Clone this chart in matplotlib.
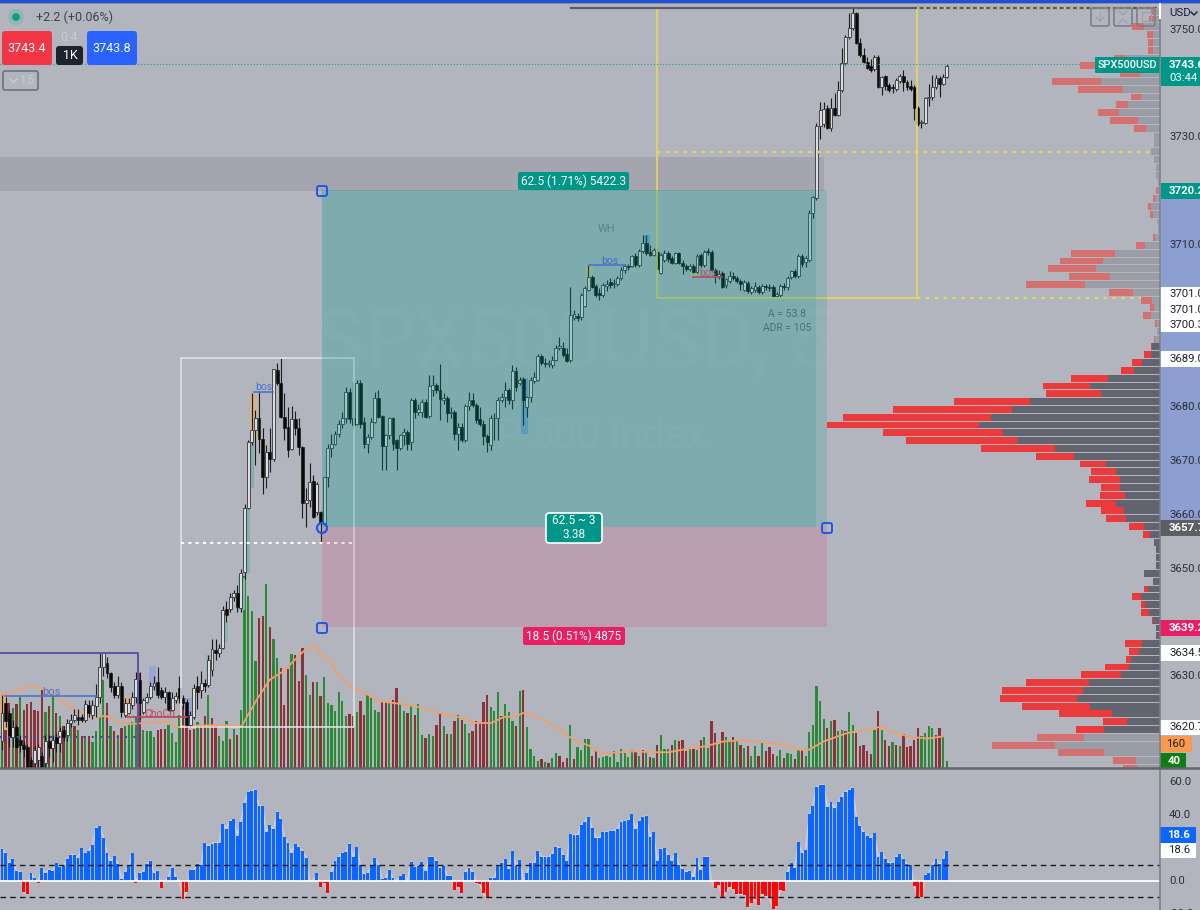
import numpy as np
import matplotlib
matplotlib.use('Agg')
import matplotlib.pyplot as plt
from matplotlib.patches import Rectangle, FancyBboxPatch, Circle

plt.rcParams['font.family'] = ['Roboto', 'DejaVu Sans']

BG = '#b2b5be'

# 5 min candles, prices
opens = [
    3617.9, 3625.0, 3623.1, 3618.8, 3620.6, 3618.2, 3617.2, 3616.9, 3614.5, 3613.8,
    3614.5, 3615.1, 3613.8, 3617.9, 3616.6, 3618.8, 3617.6, 3620.0, 3619.1, 3621.3,
    3621.9, 3622.5, 3622.4, 3621.8, 3624.7, 3622.8, 3624.4, 3626.2, 3631.8, 3632.4,
    3630.6, 3628.2, 3626.5, 3628.2, 3622.8, 3623.2, 3624.7, 3626.2, 3629.3, 3623.4, 3625.3,
    3626.1, 3628.2, 3629.0, 3627.5, 3626.2, 3627.1, 3623.7, 3625.6, 3627.8, 3625.9,
    3625.3, 3621.0, 3622.5, 3628.1, 3627.5, 3628.7, 3628.4, 3631.2, 3634.9, 3634.3,
    3635.2, 3642.4, 3642.4, 3644.8, 3645.4, 3642.6, 3649.4, 3661.3, 3673.5,
    3675.7, 3677.9, 3674.1, 3667.0, 3671.7, 3670.4, 3686.8, 3684.4, 3678.2, 3676.2,
    3672.1, 3677.7, 3676.0, 3672.6, 3662.1, 3662.7, 3666.2, 3660.5, 3660.5, 3658.5,
    3666.9, 3672.3, 3673.2, 3675.0, 3676.8, 3677.9, 3682.8, 3677.9, 3676.9, 3684.4,
    3677.2, 3673.2, 3674.5, 3677.2, 3681.6, 3678.3, 3672.7, 3674.8, 3677.9, 3673.8,
    3672.3, 3674.8, 3675.4, 3673.5, 3681.3, 3679.1, 3679.1, 3681.0, 3678.3, 3683.1,
    3684.0, 3683.1, 3681.3, 3681.6, 3678.8, 3679.1, 3675.0, 3676.3, 3673.8, 3680.2,
    3681.3, 3680.3, 3677.7, 3676.9, 3674.6, 3672.9, 3677.9, 3678.0, 3681.3, 3681.8,
    3683.1, 3681.3, 3686.7, 3684.4, 3685.1, 3680.0, 3681.8, 3684.9, 3685.0, 3689.4,
    3688.2, 3688.0, 3687.8, 3688.8, 3690.9, 3690.9, 3689.8, 3688.7, 3696.6, 3696.9,
    3696.7, 3698.7, 3701.8, 3704.2, 3702.4, 3701.1, 3700.8, 3702.4, 3703.2, 3702.8,
    3702.9, 3703.9, 3705.5, 3706.2, 3706.2, 3708.0, 3706.3, 3709.0, 3710.5, 3708.8,
    3708.2, 3708.8, 3704.9, 3707.3, 3708.6, 3707.6, 3706.8, 3708.5, 3706.8, 3706.2,
    3705.7, 3706.2, 3705.1, 3708.2, 3706.3, 3708.9, 3708.8, 3705.5, 3704.3, 3704.8,
    3702.6, 3703.4, 3704.3, 3703.9, 3703.4, 3701.8, 3703.0, 3701.4, 3701.7, 3702.2,
    3701.4, 3702.4, 3702.3, 3702.2, 3700.6, 3700.8, 3702.4, 3702.2, 3704.2, 3705.2,
    3704.3, 3708.0, 3707.0, 3707.3, 3716.0, 3718.8, 3732.1, 3732.6, 3735.5, 3731.8,
    3735.6, 3734.2, 3738.9, 3743.8, 3748.7, 3750.3, 3753.1, 3747.6, 3745.4, 3744.0,
    3743.3, 3742.7, 3744.9, 3739.5, 3741.4, 3739.8, 3739.5, 3739.0, 3740.6, 3741.4,
    3740.4, 3739.6, 3739.4, 3735.5, 3732.8, 3732.8, 3737.3, 3737.5, 3739.4, 3741.0,
    3740.0, 3741.2,
]
closes = [
    3623.1, 3621.6, 3618.8, 3620.6, 3616.9, 3617.2, 3616.4, 3612.9, 3612.9, 3616.3,
    3616.9, 3613.2, 3617.9, 3616.6, 3618.2, 3617.6, 3619.9, 3618.8, 3621.3, 3621.9,
    3622.8, 3621.8, 3621.8, 3624.9, 3623.1, 3624.7, 3626.2, 3631.8, 3634.3, 3630.6,
    3628.0, 3626.5, 3628.1, 3623.4, 3625.0, 3625.0, 3626.2, 3629.4, 3625.0, 3625.6, 3626.1,
    3628.2, 3628.8, 3626.5, 3626.2, 3627.1, 3623.7, 3625.9, 3626.3, 3625.9, 3625.0,
    3621.0, 3622.8, 3627.8, 3627.1, 3628.7, 3628.2, 3633.0, 3635.0, 3634.3, 3635.2,
    3642.3, 3641.4, 3644.8, 3645.4, 3642.9, 3649.1, 3661.3, 3673.5, 3675.7,
    3677.9, 3674.1, 3667.0, 3671.7, 3670.4, 3687.0, 3684.4, 3678.2, 3676.0, 3672.0,
    3677.7, 3676.0, 3672.6, 3662.2, 3662.7, 3666.1, 3659.6, 3665.7, 3658.5, 3666.9,
    3672.3, 3673.2, 3675.0, 3676.9, 3677.9, 3682.8, 3677.7, 3676.6, 3684.4, 3676.9,
    3673.2, 3674.5, 3677.2, 3681.6, 3678.2, 3672.7, 3674.8, 3677.9, 3673.2, 3672.3,
    3674.8, 3675.4, 3673.2, 3681.3, 3679.1, 3679.7, 3681.0, 3678.2, 3683.9, 3684.0,
    3683.1, 3681.4, 3681.6, 3678.8, 3679.1, 3675.0, 3676.2, 3673.8, 3680.2, 3681.3,
    3680.3, 3677.5, 3676.9, 3674.6, 3673.5, 3678.0, 3678.0, 3681.3, 3681.9, 3683.1,
    3681.3, 3686.7, 3683.7, 3685.0, 3681.3, 3681.8, 3685.0, 3685.6, 3689.4, 3688.1,
    3688.0, 3688.2, 3688.8, 3691.0, 3691.3, 3689.6, 3688.6, 3697.0, 3697.2, 3696.6,
    3700.8, 3702.0, 3704.2, 3702.2, 3700.8, 3700.8, 3702.6, 3702.9, 3702.6, 3703.0,
    3703.9, 3705.5, 3706.1, 3706.0, 3708.0, 3706.3, 3709.0, 3710.4, 3708.5, 3708.2,
    3709.2, 3705.7, 3708.2, 3708.5, 3707.4, 3706.8, 3708.5, 3706.8, 3706.2, 3705.7,
    3706.2, 3705.1, 3708.0, 3706.3, 3708.8, 3708.7, 3705.4, 3704.5, 3704.7, 3702.2,
    3703.7, 3704.3, 3703.9, 3703.4, 3702.9, 3703.2, 3701.5, 3702.0, 3702.4, 3701.4,
    3702.4, 3702.2, 3702.0, 3700.6, 3700.9, 3702.5, 3702.2, 3704.0, 3705.2, 3704.3,
    3708.1, 3706.6, 3707.6, 3716.0, 3718.9, 3732.2, 3735.2, 3735.3, 3731.8, 3735.5,
    3734.2, 3738.9, 3743.8, 3748.7, 3750.3, 3753.2, 3747.6, 3745.4, 3744.0, 3743.0,
    3742.5, 3744.9, 3739.5, 3741.2, 3739.6, 3738.9, 3739.2, 3740.7, 3741.4, 3740.4,
    3739.4, 3739.0, 3735.5, 3732.6, 3732.9, 3737.3, 3737.5, 3739.4, 3741.0, 3740.0,
    3741.2, 3743.4,
]
highs = [
    3626.5, 3626.2, 3623.7, 3621.9, 3621.0, 3619.1, 3618.0, 3617.5, 3615.0, 3617.0,
    3617.5, 3616.0, 3619.0, 3619.0, 3619.0, 3619.5, 3620.5, 3620.7, 3622.0, 3623.0,
    3624.0, 3624.0, 3623.0, 3625.6, 3625.5, 3625.5, 3628.5, 3634.3, 3634.5, 3633.6,
    3630.8, 3629.0, 3630.0, 3629.0, 3626.0, 3626.0, 3627.0, 3630.8, 3630.8, 3626.0, 3626.8,
    3629.0, 3630.0, 3631.8, 3628.0, 3628.0, 3627.3, 3627.0, 3627.0, 3630.0, 3626.5,
    3625.8, 3623.5, 3628.5, 3630.0, 3631.0, 3629.5, 3634.0, 3636.9, 3636.9, 3636.0,
    3643.0, 3644.0, 3645.5, 3646.0, 3647.0, 3650.0, 3662.0, 3673.8, 3682.6,
    3679.4, 3682.8, 3676.0, 3672.9, 3676.0, 3687.1, 3688.2, 3689.0, 3682.5, 3680.0,
    3680.1, 3679.3, 3677.9, 3672.8, 3664.9, 3669.6, 3667.3, 3666.0, 3660.7, 3667.0,
    3673.2, 3675.0, 3675.5, 3677.5, 3679.0, 3683.7, 3683.5, 3684.7, 3685.0, 3685.0,
    3678.2, 3675.0, 3678.0, 3682.8, 3683.1, 3678.5, 3675.0, 3678.2, 3678.2, 3674.0,
    3675.0, 3676.0, 3675.8, 3681.6, 3681.6, 3680.5, 3681.5, 3681.5, 3685.9, 3686.0,
    3684.5, 3688.0, 3682.5, 3682.0, 3680.0, 3679.5, 3677.0, 3677.0, 3680.6, 3682.8,
    3682.5, 3680.8, 3680.0, 3677.5, 3675.0, 3678.5, 3678.8, 3681.8, 3682.5, 3684.7,
    3683.5, 3687.8, 3687.5, 3685.5, 3685.5, 3682.0, 3685.5, 3686.5, 3689.8, 3689.8,
    3689.0, 3688.8, 3689.5, 3691.5, 3693.0, 3692.0, 3691.0, 3702.2, 3698.0, 3697.5,
    3701.2, 3702.5, 3706.3, 3704.5, 3702.8, 3702.0, 3703.0, 3703.6, 3704.0, 3703.7,
    3704.3, 3706.0, 3706.5, 3706.5, 3708.3, 3708.5, 3709.3, 3711.9, 3711.9, 3710.0,
    3709.6, 3709.7, 3708.6, 3709.2, 3709.0, 3708.0, 3708.8, 3708.8, 3707.2, 3706.6,
    3706.6, 3706.6, 3708.4, 3708.6, 3709.2, 3709.6, 3709.2, 3705.8, 3705.4, 3705.2,
    3704.0, 3705.3, 3705.0, 3704.4, 3703.8, 3703.6, 3703.3, 3702.5, 3703.2, 3702.6,
    3702.8, 3702.9, 3702.8, 3702.6, 3701.3, 3702.9, 3703.0, 3704.4, 3705.5, 3705.6,
    3708.4, 3708.4, 3708.0, 3716.5, 3719.2, 3732.8, 3736.7, 3736.7, 3736.0, 3737.3,
    3738.3, 3740.6, 3746.6, 3749.0, 3753.2, 3754.2, 3753.4, 3748.5, 3746.6, 3745.0,
    3744.6, 3745.4, 3745.4, 3741.5, 3741.7, 3740.2, 3740.0, 3741.0, 3741.9, 3742.5,
    3740.7, 3740.7, 3739.8, 3735.8, 3733.2, 3737.6, 3740.0, 3741.7, 3741.7, 3741.4,
    3741.9, 3743.6,
]
lows = [
    3616.3, 3620.6, 3616.9, 3616.9, 3616.6, 3616.0, 3615.0, 3612.7, 3612.7, 3613.0,
    3613.0, 3612.8, 3613.0, 3615.0, 3614.0, 3616.0, 3616.0, 3618.0, 3618.0, 3620.5,
    3621.5, 3621.0, 3621.5, 3621.5, 3622.5, 3622.0, 3622.5, 3625.0, 3630.0, 3629.6,
    3627.0, 3626.0, 3626.0, 3622.5, 3622.5, 3623.0, 3624.0, 3625.0, 3622.0, 3623.0, 3625.0,
    3625.8, 3627.5, 3626.0, 3625.8, 3625.0, 3623.5, 3623.5, 3625.0, 3625.0, 3624.0,
    3620.5, 3620.6, 3622.0, 3624.0, 3626.0, 3627.0, 3628.0, 3630.0, 3633.0, 3633.5,
    3635.0, 3640.0, 3642.0, 3644.0, 3642.0, 3642.0, 3648.0, 3661.0, 3673.0,
    3669.2, 3671.4, 3663.9, 3664.9, 3668.0, 3670.0, 3684.0, 3678.0, 3673.8, 3670.7,
    3672.0, 3674.8, 3671.0, 3659.3, 3657.7, 3661.4, 3659.4, 3660.0, 3655.0, 3658.0,
    3665.2, 3670.7, 3673.0, 3674.5, 3676.0, 3677.0, 3677.0, 3676.0, 3676.6, 3676.0,
    3672.3, 3671.4, 3674.0, 3677.0, 3678.0, 3668.3, 3668.3, 3674.0, 3672.0, 3668.3,
    3672.0, 3673.0, 3672.0, 3672.0, 3678.0, 3678.5, 3678.2, 3678.0, 3678.0, 3682.0,
    3682.5, 3677.6, 3680.5, 3677.2, 3678.0, 3673.8, 3672.0, 3673.5, 3673.5, 3679.5,
    3680.0, 3677.0, 3676.5, 3672.9, 3671.7, 3672.0, 3673.8, 3673.8, 3681.0, 3680.0,
    3680.5, 3679.7, 3683.0, 3684.0, 3676.6, 3678.2, 3681.0, 3684.5, 3684.8, 3687.8,
    3687.5, 3687.5, 3687.3, 3688.5, 3690.5, 3689.3, 3688.4, 3688.4, 3696.1, 3696.0,
    3696.1, 3698.5, 3701.5, 3702.0, 3700.4, 3699.8, 3700.5, 3701.5, 3702.0, 3702.0,
    3702.5, 3703.6, 3704.8, 3705.5, 3706.0, 3706.0, 3706.0, 3708.6, 3708.3, 3708.0,
    3708.0, 3705.5, 3704.6, 3707.0, 3707.0, 3706.5, 3706.5, 3706.5, 3704.7, 3705.2,
    3705.2, 3704.8, 3704.8, 3706.0, 3706.0, 3708.3, 3705.0, 3703.0, 3703.8, 3702.0,
    3702.0, 3703.0, 3703.5, 3703.0, 3701.8, 3701.5, 3701.2, 3701.0, 3701.4, 3701.0,
    3701.0, 3701.8, 3701.5, 3700.3, 3700.2, 3700.4, 3701.8, 3701.8, 3703.8, 3704.0,
    3704.0, 3706.0, 3706.0, 3707.0, 3715.0, 3718.5, 3729.7, 3732.0, 3731.6, 3731.3,
    3734.0, 3734.0, 3738.5, 3743.5, 3748.4, 3750.0, 3747.4, 3745.0, 3743.8, 3742.8,
    3742.2, 3742.4, 3739.3, 3738.0, 3738.9, 3738.4, 3738.3, 3738.6, 3740.2, 3738.6,
    3738.8, 3738.7, 3733.3, 3732.1, 3731.8, 3732.5, 3735.9, 3737.0, 3739.0, 3737.6,
    3739.7, 3741.0,
]

volume = [
    391, 410, 371, 343, 368, 406, 333, 368, 375, 333,
    324, 448, 320, 352, 410, 314, 295, 238, 229, 257,
    238, 219, 181, 181, 181, 147, 210, 295, 505, 371,
    238, 210, 190, 229, 238, 257, 261, 295, 543, 215,
    210, 210, 177, 219, 225, 225, 248, 200, 150, 305,
    352, 295, 219, 223, 263, 244, 295, 419, 286, 238,
    185, 152, 270, 166, 223, 190, 330, 1095, 981, 895,
    610, 857, 871, 1053, 806, 737, 629, 572, 362, 568,
    652, 648, 495, 686, 533, 419, 491, 490, 413, 520,
    371, 362, 328, 434, 381, 295, 309, 295, 318, 381,
    305, 415, 400, 330, 320, 375, 371, 375, 391, 457,
    371, 324, 314, 352, 301, 366, 190, 171, 196, 181,
    244, 311, 238, 196, 196, 267, 301, 276, 253, 202,
    213, 267, 261, 377, 419, 347, 328, 432, 295, 366,
    318, 270, 238, 438, 448, 234, 109, 67, 38, 51,
    34, 29, 57, 86, 70, 36, 57, 244, 51, 118,
    105, 166, 166, 70, 105, 55, 61, 67, 61, 99,
    36, 109, 86, 61, 105, 99, 70, 105, 99, 63,
    57, 130, 187, 109, 109, 133, 162, 152, 158, 99,
    114, 110, 105, 162, 177, 114, 270, 200, 139, 208,
    175, 162, 177, 158, 133, 114, 124, 67, 124, 67,
    143, 99, 118, 80, 70, 105, 57, 86, 82, 51,
    105, 105, 70, 208, 248, 470, 385, 280, 229, 267,
    276, 213, 219, 210, 320, 248, 200, 124, 133, 99,
    82, 219, 328, 219, 158, 124, 149, 133, 128, 194,
    120, 124, 162, 229, 185, 200, 238, 229, 190, 229,
    185, 40,
]
# g = green bar, r = red bar
volume_side = (
    'grrgrgrrrr' 'rrgrgrgrgg' 'rgrgrggggr' 'grgrggg'
    'grggggrrrg' 'gggrrrrgrr' 'grrgggrgrg'
    'ggggrrgrgg' 'rrrgrrrggr' 'grgggggggr' 'rgrrggggrr' 'grr'
    'ggrgrggrgg' 'rrgrgrgrgg' 'rrrrrgggrg' 'ggrgrggggr'
    'grggrrrgrg' 'gggrrggggg' 'gggggrgrgr' 'grgggrgrrr'
    'grgrggrrgr' 'ggrgrgrggr' 'grrrggrggr' 'grggggggrg'
    'rggrggrrrr' 'rgrgrrgrgr' 'rrrrggggrr' 'gg'
)

# orange moving average of the volume, read at the bends of the line
ma_bars = [0, 4, 8, 12, 15, 19, 23.4, 26.6, 28.5, 31.2, 34.9, 40, 45.5, 48.3, 51, 58.4, 62,
           66.2, 68, 70.4, 74, 77.7, 80.5, 83.3, 86.5, 88.3, 91, 93.8, 97, 99.4, 101.7,
           104.4, 110.2, 115, 120, 127, 131, 135.1, 138.6, 142, 144.6, 150.1, 154.1,
           158.1, 162.2, 164.7, 167.7, 174.2, 180.2, 184.3, 189.3, 194.3, 199.3, 204.4,
           214.4, 220.4, 223, 227, 233.5, 240.5, 242.9, 245.6, 250, 255.6, 260.6]
ma_values = [419, 442, 471, 448, 410, 343, 305, 291, 299, 272, 251, 257, 267, 232, 242, 244,
             244, 238, 305, 391, 505, 552, 610, 667, 699, 648, 596, 505, 457, 438, 410,
             381, 366, 349, 320, 286, 257, 257, 291, 295, 320, 267, 219,
             158, 128, 90, 86, 95, 90, 90, 110, 124, 152, 158,
             139, 103, 105, 152, 200, 223, 238, 210, 181, 168, 183]

# histogram panel below the price chart
osc = [
    19.6, 17, 10.8, 13.5, 6.3, 5.7, -7, -8, 4.7, 1.6,
    -1, 7.8, 5, 7, 6, 11, 8.8, 9, 13.5, 16,
    16, 14, 20, 17, 18.4, 22, 32.7, 33.7, 26.6, 17,
    12, 15.5, 10.4, 1, 5.7, 9.4, 17, -1, 4.7, 5.7,
    10.4, 12.5, 5, 6.3, -4, 0, 2.5, 8, 2.5, 0,
    -11, -6.5, 6.7, 6.7, 10.6, 9.6, 23.5, 21.5, 23, 23.5,
    23.5, 35, 32, 36.8, 37.8, 27.8, 36.4, 48, 54.4, 55.4,
    55.8, 46, 46, 30, 34.4, 31.7, 42.5, 37.8, 26.8, 23.5,
    17.4, 22.5, 21, 18.4, 14, -0.6, 0.6, 4.7, -3.5, -1,
    -7.6, 5.7, 12, 15, 17, 17.6, 23, 14.5, 20.6, 10,
    4, 4.7, 9, 14, 10, 1, 1.6, 7, 1.6, 0,
    3, 4.3, 0, 11.9, 8.8, 9.2, 11.5, 6.1, 14.7, 14.7,
    12.3, 8.2, 9.2, 3, 3, -5.5, -3.5, -7.5, 5.7, 8,
    5.7, -1, -2, -7.5, -10.2, 1.8, 1.8, 9.8, 10.8, 13.5,
    7.6, 18.6, 9.2, 13, 0, 4.7, 10.8, 10.8, 18.6, 15,
    14.7, 14.5, 16.6, 20.9, 20.4, 16, 12, 28.8, 28.2, 28.2,
    34.4, 36, 39.3, 32.5, 26.6, 26.6, 29.9, 29.9, 30.5, 30.5,
    31.9, 36.2, 36.6, 37.2, 40.9, 31.7, 37, 39.5, 39.9, 27.2,
    29.9, 12.5, 19.6, 20.2, 16, 12.5, 17, 10, 7.4, 5.7,
    6.3, 2.5, 14, 6.7, 14.7, 14.7, 0, -4.3, -2.5, -10.2,
    -7, -3.9, -4.9, -8.2, -8.2, -8.4, -16, -13.7, -10.8, -14.5,
    -8.2, -9, -10.2, -17.2, -15.3, -5.5, -6.1, 5.7, 11.2, 8,
    23.7, 17, 19, 41, 46, 57.5, 59, 59, 45.6, 48.3,
    44.6, 48.3, 51.7, 54.6, 55.8, 57.3, 39.5, 34, 29.9, 27.8,
    26.6, 29.2, 15, 17.6, 13.5, 11.2, 10.8, 14.7, 16.6, 13.3,
    10.2, 9.8, -3, -9.6, -9.6, 3.7, 4.7, 10, 13.5, 10.2,
    13.5, 18.6,
]

# volume profile rows on the right, top row first
profile_top = 3753.5
profile_step = 1.45
profile_up = [
    6, 6, 16, 7.3, 7.3, 6.7, 34, 60, 20, 59,
    36.7, 19.3, 32, 41, 22, 14, 5.7, 5.7, 9.3, 5.7,
    4, 4, 2, 2, 5, 9, 7.3, 3, 2, 5.3,
    15, 45, 56.7, 64, 50.3, 75, 27.3, 8.3, 5.7, 9.3,
    3, 3, 5, 7.7, 9, 18.3, 26, 52.3, 69.7, 59.3,
    129.7, 148, 168.7, 180.7, 156.7, 142.7, 105, 86, 54, 44,
    40.3, 40.3, 35, 44, 36, 34, 16, 10, 5.7, 4.3,
    4.3, 4.3, 16, 6.7, 12.3, 19, 14.7, 11, 6.7, 4,
    4, 18.3, 20.7, 29, 31, 39.3, 70.7, 76.7, 83, 69.7,
    48.3, 33, 56, 76, 105, 56, 24, 23,
]
profile_down = [
    3, 5, 12.3, 5.7, 4.7, 5.3, 12, 20, 20, 49.3,
    45.7, 10, 12, 21, 28.3, 11.7, 0, 0, 0, 0,
    0, 0, 0, 2, 1.7, 3, 3, 0, 0, 1.7,
    9, 44.3, 43, 47.7, 40.3, 59.3, 24, 10.7, 4.7, 8,
    2, 0, 1, 1.7, 6.7, 9.3, 13.3, 36.3, 47.3, 55,
    76.7, 118.7, 148, 152.7, 120, 111.3, 74, 38.3, 25.7, 24.7,
    30.3, 18.3, 25.3, 30, 23.3, 20, 15, 7.3, 0, 0,
    0, 0, 0, 0, 3.3, 9.3, 4.7, 8.3, 1.7, 0,
    0, 16.7, 10.3, 5, 24, 39.3, 63.7, 81.3, 77, 68.3,
    53, 23.7, 28, 47, 63, 46.3, 22.7, 14,
]
value_area = (43, 93)  # rows drawn at full strength

n = len(closes)
px_per_bar = 3.62


def bx(px):
    # picture pixel -> bar number
    return (px - 2) / px_per_bar


def py(y):
    # picture pixel -> price
    return 3750 - (y - 30) / 5.385


fig = plt.figure(figsize=(12, 9.1), dpi=100, facecolor=BG)
H = 910.0
top_h = 768 - 5
x_range = (bx(0), bx(1160))
y_range = (py(768), py(5))

# volume sits behind the candles
axv = fig.add_axes([0, (H - 768) / H, 1160 / 1200, top_h / H], zorder=1, facecolor=BG)
axv.set_xlim(x_range)
axv.set_ylim(0, top_h / 0.175)
axv.axis('off')
bars = np.arange(n)
vol_x = np.arange(len(volume))
vol_colors = ['#2b8a36' if s == 'g' else '#8a3238' for s in volume_side[:len(volume)]]
axv.bar(vol_x, volume, width=0.62, color=vol_colors, linewidth=0)
axv.plot(ma_bars, ma_values, color='#f0a06a', lw=1.3)

ax = fig.add_axes([0, (H - 768) / H, 1160 / 1200, top_h / H], zorder=2)
ax.patch.set_alpha(0)
ax.set_xlim(x_range)
ax.set_ylim(y_range)
ax.axis('off')

# watermark
ax.text(bx(575), py(345), 'SPX500USD, 5', fontsize=58, color='white', alpha=0.045,
        ha='center', va='center', zorder=1)
ax.text(bx(577), py(437), 'S&P 500 Index', fontsize=29, color='white', alpha=0.05,
        ha='center', va='center', zorder=1)

# gray zone
ax.add_patch(Rectangle((bx(0), py(191)), bx(824) - bx(0), py(157) - py(191),
                       fc='#a4a5ae', ec='none', zorder=1))

# colour boxes next to some candles (ahead of the candles)
boxes = [
    (243, 507, 250, 573, '#7fb2ac'), (247, 442, 254, 488, '#7fb2ac'),
    (250, 393, 257, 440, '#d6b18a'), (520.7, 378, 528, 434, '#7d9fd0'),
    (643, 235, 650, 253, '#7d9fd0'), (586, 265, 593, 289, '#c8bf8c'),
    (690, 266, 697, 277, '#c8bf8c'), (149, 666, 156, 690, '#9aa6d2'),
    (184, 698, 193, 725, '#9aa6d2'), (123, 697, 131, 717, '#d6b18a'),
    (0, 695, 8, 730, '#d6b18a'), (206, 655, 214, 672, '#8ab7b2'),
    (222, 622, 228, 642, '#8ab7b2'), (238, 578, 245, 610, '#8ab7b2'),
]
for x0, y0, x1, y1, c in boxes:
    ax.add_patch(Rectangle((bx(x0), py(y1)), bx(x1) - bx(x0), py(y0) - py(y1), fc=c, ec='none', zorder=1.5))

# candles
o = np.array(opens)
c = np.array(closes)
up = c >= o
body_low = np.minimum(o, c)
body_h = np.maximum(np.abs(c - o), 0.12)
ax.vlines(bars, lows, highs, color='#1a1a1c', lw=0.8, zorder=3)
ax.bar(bars[up], body_h[up], bottom=body_low[up], width=0.8, fc='#dcdde1', ec='#47474c', lw=0.7, zorder=4)
ax.bar(bars[~up], body_h[~up], bottom=body_low[~up], width=0.8, fc='#0a0a0a', ec='#0a0a0a', lw=0.4, zorder=4)

# white box with dotted mid line, under the position tool
ax.plot([bx(181), bx(181), bx(354), bx(354), bx(181)],
        [py(727), py(358), py(358), py(727), py(727)], color='#e4e5e9', lw=1.1, zorder=4.5)
ax.plot([bx(181), bx(354)], [py(543), py(543)], color='white', lw=1.5, ls=(0, (1.5, 2)), zorder=4.5)

# yellow box and levels
YEL = '#e8d85a'
ax.plot([bx(657), bx(657), bx(917), bx(917)], [py(8), py(298), py(298), py(8)], color=YEL, lw=1.2, zorder=4.5)
ax.plot([bx(657), bx(1160)], [py(152), py(152)], color=YEL, lw=1.6, ls=(0, (1.5, 2.5)), zorder=6)
ax.plot([bx(917), bx(1160)], [py(298), py(298)], color=YEL, lw=1.6, ls=(0, (1.5, 2.5)), zorder=6)
ax.plot([bx(571), bx(1160)], [py(7.5), py(7.5)], color='#5a5c64', lw=1.6, zorder=6)
ax.plot([bx(917), bx(1160)], [py(8), py(8)], color=YEL, lw=1.2, ls=(0, (1.5, 2.5)), zorder=6)

# long/short position tool goes over the candles
ax.add_patch(Rectangle((bx(322), 3657.7), bx(816) - bx(322), 3720.2 - 3657.7,
                       fc='#009688', alpha=0.29, ec='none', zorder=5))
ax.add_patch(Rectangle((bx(816), 3657.7), bx(827) - bx(816), 3720.2 - 3657.7,
                       fc='#009688', alpha=0.16, ec='none', zorder=5))
ax.add_patch(Rectangle((bx(322), 3639.2), bx(827) - bx(322), 3657.7 - 3639.2,
                       fc='#e91e63', alpha=0.15, ec='none', zorder=5))

# last price line
ax.plot([bx(0), bx(1095)], [3743.6, 3743.6], color='#3f9a90', lw=0.9, ls=(0, (1, 1.5)), zorder=6)

# structure lines
ax.plot([bx(0), bx(138), bx(138)], [py(653), py(653), py(768)], color='#5a55a8', lw=1.4, zorder=6)
ax.plot([bx(0), bx(138)], [py(737), py(737)], color='#4a3fa5', lw=1.5, ls=(0, (1, 3)), zorder=6)
BLUE = '#4a72d0'
RED = '#b8485a'
for x0, x1, y, col in [(5, 97, 695.5, BLUE), (254, 273, 392, BLUE), (589, 625, 265, BLUE),
                       (127, 187, 717, RED), (693, 722, 277, RED)]:
    ax.plot([bx(x0), bx(x1)], [py(y), py(y)], color=col, lw=1.2, zorder=6)

# volume profile, bars grow from the right edge of the pane
axp = fig.add_axes([0, (H - 768) / H, 1160 / 1200, top_h / H], zorder=3)
axp.patch.set_alpha(0)
axp.set_xlim(1160, 0)
axp.set_ylim(y_range)
axp.axis('off')
row_price = profile_top - profile_step * np.arange(len(profile_up))
pu = np.array(profile_up)
pd = np.array(profile_down)
strong = (np.arange(len(pu)) >= value_area[0]) & (np.arange(len(pu)) < value_area[1])
up_col = np.where(strong, '#62646f', '#9a9ca6')
dn_col = np.where(strong, '#ea3a3c', '#d4706f')
axp.barh(row_price, pu, height=1.28, color=up_col, linewidth=0)
axp.barh(row_price, pd, left=pu, height=1.28, color=dn_col, linewidth=0)

# histogram panel
axo = fig.add_axes([0, 0, 1160 / 1200, (H - 770) / H], zorder=1, facecolor=BG)
axo.set_xlim(x_range)
axo.set_ylim((881 - 910) / 1.63, (881 - 770) / 1.63)
axo.axis('off')
osc_v = np.array(osc)
osc_x = np.arange(len(osc_v))
axo.plot(osc_x, osc_v, color='#d0d1d6', lw=1.0, zorder=1)
axo.bar(osc_x, osc_v, width=0.8, color=np.where(osc_v >= 0, '#0a66ff', '#ff0505'), linewidth=0, zorder=2)
axo.axhline(0, color='white', lw=1.3, zorder=3)
axo.axhline(10, color='#1c1c20', lw=1.0, ls=(0, (4, 3)), zorder=3)
axo.axhline(-10, color='#1c1c20', lw=1.0, ls=(0, (4, 3)), zorder=3)

# everything in picture pixels from here on
ui = fig.add_axes([0, 0, 1, 1], zorder=10)
ui.patch.set_alpha(0)
ui.set_xlim(0, 1200)
ui.set_ylim(910, 0)
ui.axis('off')


def box(x0, y0, x1, y1, fc, ec='none', lw=0, r=2):
    ui.add_patch(FancyBboxPatch((x0 + r, y0 + r), x1 - x0 - 2 * r, y1 - y0 - 2 * r,
                                boxstyle='round,pad=%s,rounding_size=%s' % (r, r),
                                fc=fc, ec=ec, lw=lw))


def label(x, y, s, col='#1e222d', size=8.2, **kw):
    kw.setdefault('ha', 'center')
    kw.setdefault('va', 'center')
    ui.text(x, y, s, color=col, fontsize=size, **kw)


# top stripe
ui.add_patch(Rectangle((0, 0), 1200, 2.5, fc='#1f4fe0', ec='none'))
ui.add_patch(Rectangle((0, 2.5), 1200, 1.8, fc='#8f8f86', ec='none'))

# axis panel
ui.add_patch(Rectangle((1161, 191), 39, 337, fc='#8d9fd0', ec='none'))
ui.plot([1160, 1160], [5, 910], color='#7a7c86', lw=1.1)
ui.plot([0, 1200], [768, 768], color='#62646c', lw=1.8)
ui.plot([1160, 1160], [4, 18], color='white', lw=1.5)

for y, s in [(30, '3750.0'), (137, '3730.0'), (245, '3710.0'), (407, '3680.0'), (461, '3670.0'),
             (515, '3660.0'), (569, '3650.0'), (676, '3630.0'), (782, '60.0'), (815, '40.0'),
             (881, '0.0'), (914, '-20.0')]:
    label(1169, y, s, col='#2a2e39', ha='left')
label(1169, 13, 'USD', col='#1c1c50', ha='left')
ui.plot([1191, 1194, 1197], [12, 15, 12], color='#1c1c50', lw=1)

# coloured price tags
box(1161, 57, 1200, 86, '#009688', r=0.5)
label(1169, 65, '3743.6', col='white', ha='left', fontweight='bold')
label(1169, 78, '03:44', col='white', ha='left')
box(1095, 57, 1160, 73, '#009688', r=1)
label(1127, 65.5, 'SPX500USD', col='white', size=7.8, fontweight='medium')
box(1161, 183, 1200, 199, '#009688', r=0.5)
label(1169, 191, '3720.2', col='white', ha='left', fontweight='bold')
ui.add_patch(Rectangle((1160, 287), 40, 45, fc='white', ec='none'))
for y, s in [(294, '3701.0'), (310, '3701.0'), (325, '3700.3')]:
    label(1169, y, s, ha='left')
ui.add_patch(Rectangle((1160, 351), 40, 16, fc='white', ec='none'))
label(1169, 359, '3689.0', ha='left')
ui.add_patch(Rectangle((1160, 520), 40, 16, fc='#5e5f63', ec='none'))
label(1169, 528, '3657.7', col='white', ha='left', fontweight='bold')
ui.add_patch(Rectangle((1160, 620), 40, 16, fc='#e91e63', ec='none'))
label(1169, 628, '3639.2', col='white', ha='left', fontweight='bold')
ui.add_patch(Rectangle((1160, 645), 40, 16, fc='white', ec='none'))
label(1169, 653, '3634.5', ha='left')
ui.add_patch(Rectangle((1160, 720), 40, 15, fc='white', ec='none'))
label(1169, 727, '3620.7', ha='left')
box(1160, 736, 1192, 752, '#f9984f', r=1)
label(1176, 744, '160')
box(1160, 753, 1186, 769, '#0f7d12', r=1)
label(1174, 761, '40', col='white', fontweight='bold')
box(1160, 827, 1196, 843, '#0a66ff', r=1)
label(1179, 835, '18.6', col='white', fontweight='bold')
ui.add_patch(Rectangle((1160, 843), 36, 15, fc='white', ec='none'))
label(1179, 850, '18.6')

# top left widgets
ui.add_patch(Circle((16, 17), 8, fc='#8fb5b0', ec='none'))
ui.add_patch(Circle((16, 17), 3.8, fc='#0b9d86', ec='none'))
label(75, 17.5, '+2.2 (+0.06%)', col='#3f424c', size=9)
box(2, 31, 52, 65, '#f23645', r=3)
label(27, 48.5, '3743.4', col='white', size=9)
label(69, 37.5, '0.4', col='#c9cbd2', size=9)
box(56, 46, 83, 65, '#1e222d', r=3)
label(70, 55.5, '1K', col='white', size=9)
box(87, 31, 137, 65, '#2962ff', r=3)
label(112, 48.5, '3743.8', col='white', size=9)
box(3, 71, 38, 90, 'none', ec='#6f717a', lw=1.2, r=2)
ui.plot([10, 13.5, 17], [79, 82.5, 79], color='#c9cbd2', lw=1)
label(27, 81, '15', col='#c9cbd2', size=9)

# three buttons top right
for x0 in (1091, 1114, 1137):
    box(x0, 8, x0 + 18, 26, 'none', ec='#7c7e88', lw=1.2, r=2)
ui.plot([1100, 1100], [12, 21], color='#9ea0a9', lw=0.9)
ui.plot([1096.5, 1100, 1103.5], [17.5, 21, 17.5], color='#9ea0a9', lw=0.9)
ui.plot([1119, 1123, 1127], [11, 15, 11], color='#9ea0a9', lw=0.9)
ui.plot([1119, 1123, 1127], [23, 19, 23], color='#9ea0a9', lw=0.9)
ui.add_patch(Rectangle((1141.5, 12), 9, 9, fc='none', ec='#9ea0a9', lw=0.9))

# position tool labels and handles
box(518, 172, 629, 190, '#009688', r=2)
label(574, 181.5, '62.5 (1.71%) 5422.3', col='white', size=8.5)
box(546, 513, 602, 543, '#009688', ec='white', lw=1.2, r=3)
label(574, 521, '62.5 ~ 3', col='white', size=8.5)
label(574, 535, '3.38', col='white', size=8.5)
box(523, 627, 625, 645, '#e91e63', r=2)
label(574, 636.5, '18.5 (0.51%) 4875', col='white', size=8.5)

for hx, hy in [(322, 191), (827, 528), (322, 628)]:
    box(hx - 5, hy - 5, hx + 5, hy + 5, 'none', ec='#1f57e8', lw=1.4, r=2)
ui.add_patch(Circle((322, 528), 5, fc='none', ec='#1f57e8', lw=1.6))

# small chart notes
label(607, 229, 'WH', col='#5d8184', size=8)
label(264, 387, 'bos', col='#4a72d0', size=7.5)
label(610, 261, 'bos', col='#3f6fc0', size=7.5)
label(51, 692, 'bos', col='#4a72d0', size=8)
label(708, 273, 'bos', col='#b05a68', size=7.5)
label(160, 714, 'ChoCh', col='#c0485a', size=7.5)
label(787, 314, 'A = 53.8', col='#4d6f72', size=7.5)
label(787, 328, 'ADR = 105', col='#4d6f72', size=7.5)

fig.savefig('out.png', dpi=100, facecolor=BG)
